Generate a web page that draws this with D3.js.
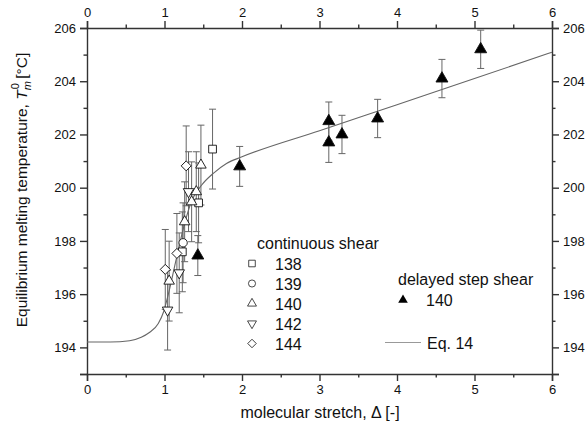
<!DOCTYPE html>
<html lang="en">
<head>
<meta charset="UTF-8" />
<title>Equilibrium melting temperature vs molecular stretch</title>
<script src="https://d3js.org/d3.v7.min.js"></script>
<style>
  body { margin: 0; background: #fff; }
  svg { font-family: "Liberation Sans", Arial, sans-serif; }
  .axis path, .axis line { stroke: #333; stroke-width: 1.4; }
  .axis text { fill: #111; font-size: 13px; }
  .err { stroke: #666; stroke-width: 1; }
  .curve { fill: none; stroke: #666; stroke-width: 1.1; }
</style>
</head>
<body>
<div id="chart"></div>
<script>
  // continuous shear, [stretch, Tm0, error]
  const cs138 = [[1.23, 197.59, 1.5], [1.44, 199.43, 1.5], [1.62, 201.45, 1.5]];
  const cs139 = [[1.24, 197.93, 1.5]];
  const cs140 = [[1.06, 196.49, 1.5], [1.26, 198.72, 1.5], [1.35, 199.47, 1.5], [1.41, 199.85, 1.5], [1.47, 200.85, 1.5]];
  const cs142 = [[1.04, 195.40, 1.5], [1.19, 196.80, 1.5], [1.31, 199.85, 1.5]];
  const cs144 = [[1.01, 196.93, 1.5], [1.16, 197.53, 1.5], [1.28, 200.82, 1.5]];
  // delayed step shear 140
  const step140 = [[1.43, 197.45, 0.75], [1.97, 200.80, 0.75], [3.12, 202.50, 0.72], [3.12, 201.70, 0.75],
                   [3.29, 202.00, 0.72], [3.75, 202.60, 0.72], [4.58, 204.10, 0.72], [5.08, 205.20, 0.72]];
  // Eq. 14 curve
  const eq14 = [[0, 194.2], [0.3, 194.2], [0.55, 194.25], [0.7, 194.38], [0.8, 194.55], [0.92, 194.9], [0.99, 195.35],
                [1.05, 196.0], [1.15, 197.3], [1.25, 198.55], [1.35, 199.5], [1.48, 200.1], [1.63, 200.54],
                [1.8, 200.91], [2.0, 201.16], [3.0, 202.14], [4.0, 203.12], [5.0, 204.1], [6.0, 205.09]];

  const xTicks = [0, 1, 2, 3, 4, 5, 6];
  const yTicks = [194, 196, 198, 200, 202, 204, 206];

  const W = 586, H = 432;
  const x = d3.scaleLinear().domain([0, 6]).range([87, 552]);
  const y = d3.scaleLinear().domain([193, 206]).range([374, 28]);

  const svg = d3.select("#chart").append("svg").attr("width", W).attr("height", H);

  // axes with minor ticks
  function axisPair(axisFn, scale, major, minor, fmt, transform, showLabels) {
    const gMin = svg.append("g").attr("class", "axis").attr("transform", transform)
      .call(axisFn(scale).tickValues(minor).tickSize(3.5).tickFormat(""));
    gMin.select(".domain").remove();
    svg.append("g").attr("class", "axis").attr("transform", transform)
      .call(axisFn(scale).tickValues(major).tickSizeOuter(0).tickSize(7).tickPadding(4)
        .tickFormat(showLabels ? fmt : ""));
  }
  const xMinor = d3.range(0.5, 6, 1);
  const yMinor = d3.range(193, 206, 2);
  axisPair(d3.axisBottom, x, xTicks, xMinor, d3.format("d"), `translate(0,${y(193)})`, true);
  axisPair(d3.axisTop, x, xTicks, xMinor, d3.format("d"), `translate(0,${y(206)})`, true);
  axisPair(d3.axisLeft, y, yTicks.concat([193]), yMinor.filter(v => v !== 193), d3.format("d"), `translate(${x(0)},0)`, true);
  axisPair(d3.axisRight, y, yTicks.concat([193]), yMinor.filter(v => v !== 193), d3.format("d"), `translate(${x(6)},0)`, true);
  svg.selectAll(".axis .tick text").filter(d => d === 193).remove();

  // error bars
  const allSets = [cs138, cs139, cs140, cs142, cs144, step140];
  const eg = svg.append("g");
  allSets.forEach(set => {
    set.forEach(d => {
      const cx = x(d[0]);
      eg.append("line").attr("class", "err").attr("x1", cx).attr("x2", cx).attr("y1", y(d[1] - d[2])).attr("y2", y(d[1] + d[2]));
      [d[1] - d[2], d[1] + d[2]].forEach(v => {
        eg.append("line").attr("class", "err").attr("x1", cx - 3.5).attr("x2", cx + 3.5).attr("y1", y(v)).attr("y2", y(v));
      });
    });
  });

  // Eq. 14
  const line = d3.line().x(d => x(d[0])).y(d => y(d[1])).curve(d3.curveMonotoneX);
  svg.append("path").attr("class", "curve").datum(eq14).attr("d", line);

  // markers
  const shapes = {
    sq: d3.symbol().type(d3.symbolSquare).size(60)(),
    ci: d3.symbol().type(d3.symbolCircle).size(55)(),
    tri: d3.symbol().type(d3.symbolTriangle).size(48)(),
    dia: d3.symbol().type(d3.symbolSquare).size(50)(),
    ftri: d3.symbol().type(d3.symbolTriangle).size(62)()
  };
  function drawMarks(set, shape, rot, fill) {
    svg.append("g").selectAll("path").data(set).join("path")
      .attr("d", shapes[shape])
      .attr("transform", d => `translate(${x(d[0])},${y(d[1])}) rotate(${rot})`)
      .attr("fill", fill)
      .attr("stroke", "#111")
      .attr("stroke-width", 0.9);
  }
  drawMarks(cs138, "sq", 0, "#fff");
  drawMarks(cs139, "ci", 0, "#fff");
  drawMarks(cs140, "tri", 0, "#fff");
  drawMarks(cs142, "tri", 180, "#fff");
  drawMarks(cs144, "dia", 45, "#fff");
  drawMarks(step140, "ftri", 0, "#000");

  // legends
  const lg = svg.append("g").style("font-size", "16px").attr("fill", "#111");
  lg.append("text").attr("x", 257).attr("y", 249).text("continuous shear");
  const items = [["sq", 0, "138"], ["ci", 0, "139"], ["tri", 0, "140"], ["tri", 180, "142"], ["dia", 45, "144"]];
  items.forEach((it, i) => {
    const cy = 263.5 + i * 20;
    lg.append("path").attr("d", shapes[it[0]]).attr("transform", `translate(252,${cy}) rotate(${it[1]}) scale(0.85)`)
      .attr("fill", "#fff").attr("stroke", "#111").attr("stroke-width", 0.9);
    lg.append("text").attr("x", 275).attr("y", cy + 6).text(it[2]);
  });
  lg.append("text").attr("x", 398).attr("y", 285).text("delayed step shear");
  lg.append("path").attr("d", d3.symbol().type(d3.symbolTriangle).size(40)())
    .attr("transform", "translate(403,300)").attr("fill", "#000");
  lg.append("text").attr("x", 426).attr("y", 306).text("140");
  lg.append("line").attr("x1", 385).attr("x2", 421).attr("y1", 342.5).attr("y2", 342.5)
    .attr("stroke", "#999").attr("stroke-width", 1.1);
  lg.append("text").attr("x", 427).attr("y", 348.5).text("Eq. 14");

  // axis titles
  svg.append("text").attr("x", 320).attr("y", 418).attr("text-anchor", "middle")
    .style("font-size", "16px").attr("fill", "#111").text("molecular stretch, \u0394 [-]");

  const yt = svg.append("text").attr("transform", "translate(27,190) rotate(-90)")
    .attr("text-anchor", "middle").style("font-size", "15.5px").attr("fill", "#111");
  yt.append("tspan").text("Equilibrium melting temperature, ");
  yt.append("tspan").style("font-style", "italic").text("T");
  yt.append("tspan").style("font-style", "italic").style("font-size", "11px").attr("dy", 4).text("m");
  yt.append("tspan").style("font-size", "11px").attr("dx", -8).attr("dy", -12).text("0");
  yt.append("tspan").attr("dy", 8).text(" [°C]");
</script>
</body>
</html>
